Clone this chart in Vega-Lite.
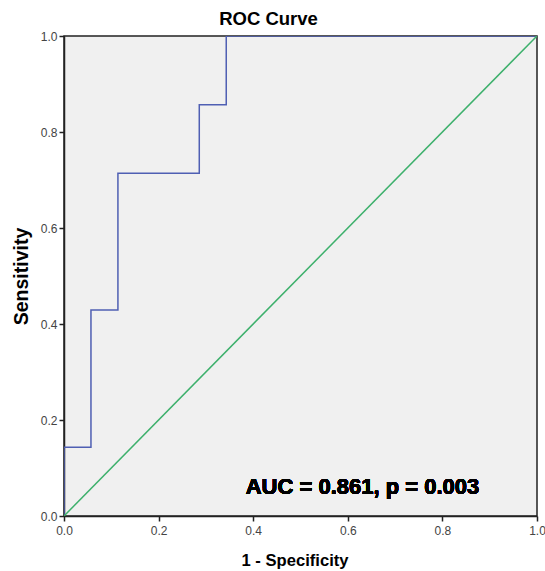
{
  "$schema": "https://vega.github.io/schema/vega-lite/v6.json",
  "autosize": {"type": "none"},
  "padding": {"left": 64, "top": 36, "right": 8, "bottom": 55},
  "width": 473,
  "height": 480,
  "background": "white",
  "title": {"text": "ROC Curve", "anchor": "middle", "dx": -32, "offset": 2, "font": "Liberation Sans", "fontSize": 18.5, "fontWeight": "bold", "color": "#000"},
  "config": {
    "view": {"fill": "#F0F0F0", "stroke": "#222", "strokeWidth": 1.5},
    "axis": {"grid": false, "labelFont": "Liberation Sans", "labelFontSize": 12, "labelColor": "#444", "labelFlush": false, "labelOverlap": false, "tickColor": "#222", "tickSize": 5, "tickWidth": 1.5, "domainColor": "#222", "domainWidth": 1.5, "titleFont": "Liberation Sans", "titleFontWeight": "bold", "titleColor": "#000"}
  },
  "data": {"values": [
    {"series": "roc", "o": 0, "x": 0, "y": 0},
    {"series": "roc", "o": 1, "x": 0, "y": 0.143},
    {"series": "roc", "o": 2, "x": 0.057, "y": 0.143},
    {"series": "roc", "o": 3, "x": 0.057, "y": 0.429},
    {"series": "roc", "o": 4, "x": 0.114, "y": 0.429},
    {"series": "roc", "o": 5, "x": 0.114, "y": 0.714},
    {"series": "roc", "o": 6, "x": 0.286, "y": 0.714},
    {"series": "roc", "o": 7, "x": 0.286, "y": 0.857},
    {"series": "roc", "o": 8, "x": 0.343, "y": 0.857},
    {"series": "roc", "o": 9, "x": 0.343, "y": 1},
    {"series": "roc", "o": 10, "x": 1, "y": 1},
    {"series": "ref", "o": 0, "x": 0, "y": 0},
    {"series": "ref", "o": 1, "x": 1, "y": 1}
  ]},
  "layer": [
    {
      "mark": {"type": "line", "strokeWidth": 1.5, "clip": true},
      "encoding": {
        "x": {"field": "x", "type": "quantitative", "scale": {"domain": [0, 1], "nice": false}, "axis": {"title": "1 - Specificity", "titleFontSize": 16.6, "titleX": 230.5, "format": ".1f", "values": [0, 0.2, 0.4, 0.6, 0.8, 1], "labelPadding": 4, "titlePadding": 16}},
        "y": {"field": "y", "type": "quantitative", "scale": {"domain": [0, 1], "nice": false}, "axis": {"title": "Sensitivity", "titleFontSize": 19.5, "format": ".1f", "values": [0, 0.2, 0.4, 0.6, 0.8, 1], "labelPadding": 2, "titlePadding": 9}},
        "color": {"field": "series", "type": "nominal", "scale": {"domain": ["roc", "ref"], "range": ["#4F5FB3", "#3DB06C"]}, "legend": null},
        "order": {"field": "o", "type": "quantitative"}
      }
    },
    {
      "mark": {"type": "text", "font": "Liberation Sans", "fontSize": 22, "fontWeight": "bold", "color": "#000", "align": "center", "baseline": "middle"},
      "encoding": {
        "x": {"datum": 0.631, "type": "quantitative"},
        "y": {"datum": 0.06, "type": "quantitative"},
        "text": {"value": "AUC = 0.861, p = 0.003"}
      }
    }
  ]
}
